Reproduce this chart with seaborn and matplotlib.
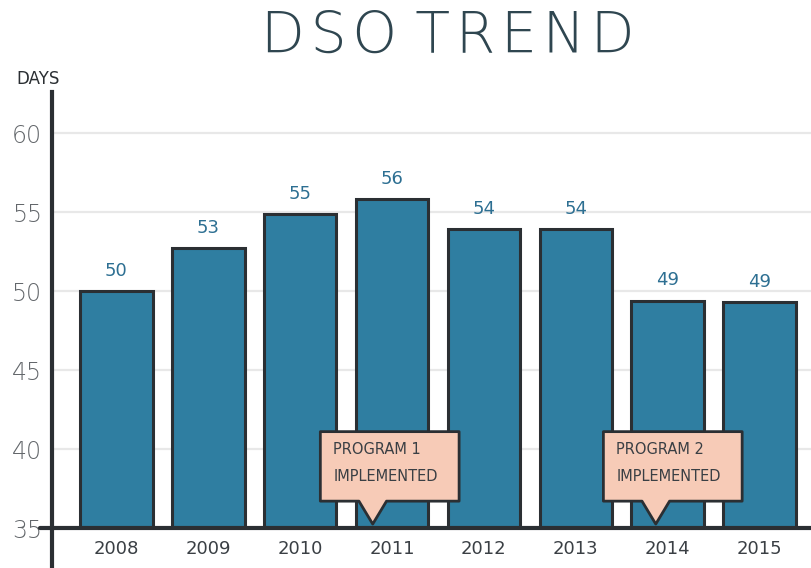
import matplotlib
matplotlib.use("Agg")
import matplotlib.pyplot as plt
import seaborn as sns
import pandas as pd
from matplotlib.patches import Polygon
from matplotlib.lines import Line2D

years = ['2008', '2009', '2010', '2011', '2012', '2013', '2014', '2015']
dso_days = [50.0, 52.7, 54.9, 55.8, 53.9, 53.9, 49.4, 49.3]
value_labels = ['50', '53', '55', '56', '54', '54', '49', '49']
y_ticks = [35, 40, 45, 50, 55, 60]
callouts = [("PROGRAM 1\nIMPLEMENTED", 2.97), ("PROGRAM 2\nIMPLEMENTED", 6.05)]

sns.set_theme(style="white")
plt.rcParams['font.family'] = ['DejaVu Sans']

df = pd.DataFrame({"year": years, "dso": dso_days})

fig = plt.figure(figsize=(8.12, 5.68), dpi=100)
ax = fig.add_axes([52/812, 40/568, 760/812, (528-92)/568])

bar_color = "#2f7ea1"
edge = "#2b2f33"
sns.barplot(data=df, x="year", y="dso", color=bar_color, width=0.79,
            edgecolor=edge, linewidth=2.2, saturation=1, ax=ax, zorder=3)

ax.set_ylim(35, 62.6)
ax.set_xlim(-0.7, 7.57)
ax.set_yticks(y_ticks)
ax.set_yticklabels([str(t) for t in y_ticks])
for t in y_ticks[1:]:
    ax.axhline(t, color="#e8e8e8", lw=1.6, zorder=1)

for s in ['top', 'right', 'bottom']:
    ax.spines[s].set_visible(False)
ax.spines['left'].set_color("#2b2f33")
ax.spines['left'].set_linewidth(3)
ax.spines['left'].set_zorder(5)

# extended axis lines
ax.add_line(Line2D([0, 0], [0, -0.1], transform=ax.transAxes, color="#2b2f33",
                   lw=3, clip_on=False, zorder=5))
ax.add_line(Line2D([-0.016, 1.0], [0, 0], transform=ax.transAxes, color="#2b2f33",
                   lw=3, clip_on=False, zorder=6))

ax.tick_params(axis='y', length=0, pad=7, labelsize=17, labelcolor="#63676b")
for lab in ax.get_yticklabels():
    lab.set_fontweight('light')
ax.tick_params(axis='x', length=0, pad=9, labelsize=13, labelcolor="#3a3f44")
ax.set_xlabel("")
ax.set_ylabel("")

for i, (v, lab) in enumerate(zip(dso_days, value_labels)):
    ax.text(i, v + 0.7, lab, ha='center', va='bottom', fontsize=13,
            color="#2d6f92", zorder=6)

fig.text(38/812, 1 - 79/568, "DAYS", ha='center', va='center', fontsize=12,
         color="#2b2f33")
title = "\u200a".join("DSO") + " " + "\u200a".join("TREND")
fig.text(448/812, 1 - 37/568, title,
         ha='center', va='center', fontsize=41, color="#2f4650", fontweight='light')

# callout bubbles
for text, xc in callouts:
    x0, x1 = xc - 0.75, xc + 0.76
    ytop, ybot = 41.1, 36.7
    px = xc - 0.18
    poly = [(x0, ytop), (x1, ytop), (x1, ybot), (px + 0.15, ybot), (px, 35.25),
            (px - 0.15, ybot), (x0, ybot)]
    ax.add_patch(Polygon(poly, closed=True, facecolor="#f7cbb7", edgecolor="#2b2f33",
                         lw=2, zorder=7, joinstyle='round'))
    ax.text(x0 + 0.14, 39.1, text, ha='left', va='center', fontsize=10.5,
            color="#3a3f44", linespacing=2.0, zorder=8)

fig.savefig("out.png", dpi=100, facecolor="white")
